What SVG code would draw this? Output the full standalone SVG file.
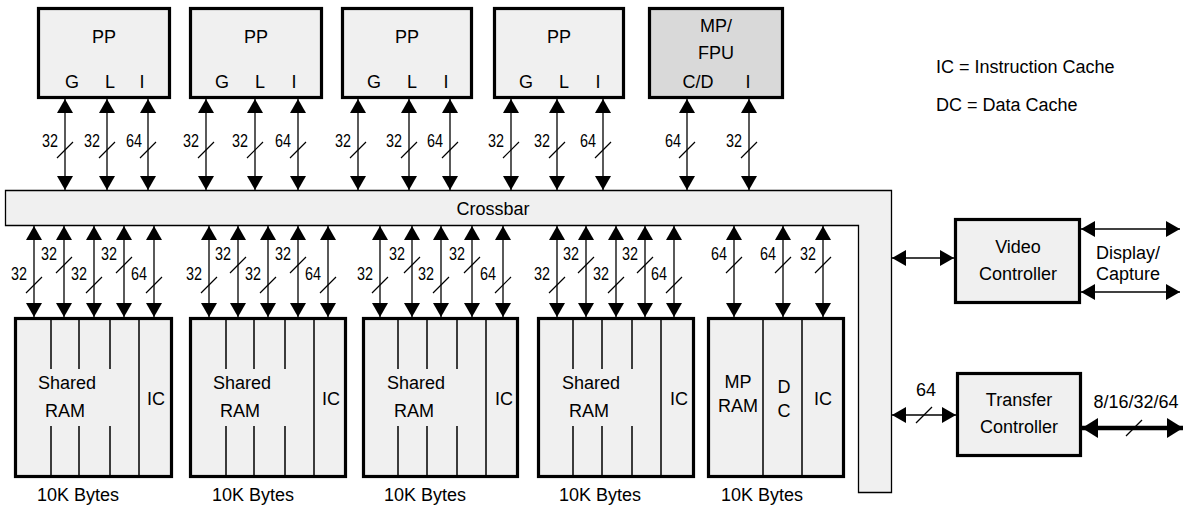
<svg xmlns="http://www.w3.org/2000/svg" width="1194" height="507" viewBox="0 0 1194 507">
<defs>
<style>
.box{fill:#f0f0f0;stroke:#000;stroke-width:3.2}
.mp{fill:#d9d9d9}
.xb{fill:#f0f0f0;stroke:#000;stroke-width:1.3}
.t{font-family:"Liberation Sans",Arial,Helvetica,sans-serif;font-size:18px;fill:#000}
.c{text-anchor:middle}
.n{font-family:"Liberation Sans",Arial,Helvetica,sans-serif;font-size:19px;fill:#000;text-anchor:end}
.bus{stroke:#000;stroke-width:1.3;fill:none;marker-start:url(#ah);marker-end:url(#ah)}
.thick{stroke:#000;stroke-width:4.5;fill:none;marker-start:url(#ahb);marker-end:url(#ahb)}
.sl{stroke:#000;stroke-width:1.2;fill:none}
.div{stroke:#000;stroke-width:1.5;fill:none}
</style>
<marker id="ah" viewBox="0 0 14 16" markerWidth="14" markerHeight="16" refX="14" refY="8" orient="auto-start-reverse" markerUnits="userSpaceOnUse">
<path d="M0,0 L14,8 L0,16 z" fill="#000"/>
</marker>
<marker id="ahb" viewBox="0 0 16 20" markerWidth="16" markerHeight="20" refX="16" refY="10" orient="auto-start-reverse" markerUnits="userSpaceOnUse">
<path d="M0,0 L16,10 L0,20 z" fill="#000"/>
</marker>
</defs>
<rect width="1194" height="507" fill="#fff"/>

<g id="crossbar">
<path class="xb" d="M5.5,190.5 H891.5 V492.5 H858.5 V225.5 H5.5 Z"/>
<text class="t c" x="493" y="215">Crossbar</text>
</g>

<g id="pp1">
<rect class="box" x="38.5" y="8.5" width="131" height="89"/>
<text class="t c" x="104" y="43">PP</text>
<text class="t c" x="72" y="88">G</text><text class="t c" x="110" y="88">L</text><text class="t c" x="142" y="88">I</text>
</g>
<g id="pp2">
<rect class="box" x="190.5" y="8.5" width="131" height="89"/>
<text class="t c" x="256" y="43">PP</text>
<text class="t c" x="222" y="88">G</text><text class="t c" x="260" y="88">L</text><text class="t c" x="294" y="88">I</text>
</g>
<g id="pp3">
<rect class="box" x="342.5" y="8.5" width="129" height="89"/>
<text class="t c" x="407" y="43">PP</text>
<text class="t c" x="374" y="88">G</text><text class="t c" x="412" y="88">L</text><text class="t c" x="446" y="88">I</text>
</g>
<g id="pp4">
<rect class="box" x="494.5" y="8.5" width="129" height="89"/>
<text class="t c" x="559" y="43">PP</text>
<text class="t c" x="526" y="88">G</text><text class="t c" x="564" y="88">L</text><text class="t c" x="598" y="88">I</text>
</g>
<g id="mpfpu">
<rect class="box mp" x="649.5" y="8.5" width="133" height="89"/>
<text class="t c" x="716" y="32">MP/</text>
<text class="t c" x="716" y="59">FPU</text>
<text class="t c" x="698" y="88">C/D</text><text class="t c" x="748" y="88">I</text>
</g>

<g id="legend">
<text class="t" x="936" y="73">IC = Instruction Cache</text>
<text class="t" x="936" y="111">DC = Data Cache</text>
</g>

<g id="ram1">
<rect class="box" x="15.5" y="318.5" width="156" height="158"/>
<path class="div" d="M51,318 V369 M51,426 V477 M79,318 V369 M79,426 V477 M110,318 V369 M110,426 V477 M139,318 V477"/>
<text class="t c" x="67" y="389">Shared</text><text class="t c" x="65" y="417">RAM</text>
<text class="t c" x="156" y="405">IC</text>
<text class="t c" x="78" y="501">10K Bytes</text>
</g>
<g id="ram2">
<rect class="box" x="190.5" y="318.5" width="155" height="158"/>
<path class="div" d="M226,318 V369 M226,426 V477 M254,318 V369 M254,426 V477 M285,318 V369 M285,426 V477 M314,318 V477"/>
<text class="t c" x="242" y="389">Shared</text><text class="t c" x="240" y="417">RAM</text>
<text class="t c" x="331" y="405">IC</text>
<text class="t c" x="253" y="501">10K Bytes</text>
</g>
<g id="ram3">
<rect class="box" x="363.5" y="318.5" width="154" height="158"/>
<path class="div" d="M398,318 V369 M398,426 V477 M427,318 V369 M427,426 V477 M457,318 V369 M457,426 V477 M486,318 V477"/>
<text class="t c" x="416" y="389">Shared</text><text class="t c" x="414" y="417">RAM</text>
<text class="t c" x="504" y="405">IC</text>
<text class="t c" x="425" y="501">10K Bytes</text>
</g>
<g id="ram4">
<rect class="box" x="538.5" y="318.5" width="155" height="158"/>
<path class="div" d="M573,318 V369 M573,426 V477 M602,318 V369 M602,426 V477 M632,318 V369 M632,426 V477 M661,318 V477"/>
<text class="t c" x="591" y="389">Shared</text><text class="t c" x="589" y="417">RAM</text>
<text class="t c" x="679" y="405">IC</text>
<text class="t c" x="600" y="501">10K Bytes</text>
</g>
<g id="ram5">
<rect class="box" x="708.5" y="318.5" width="135" height="158"/>
<path class="div" d="M763,318 V477 M802,318 V477"/>
<text class="t c" x="738" y="388">MP</text><text class="t c" x="738" y="412">RAM</text>
<text class="t c" x="784" y="393">D</text><text class="t c" x="784" y="417">C</text>
<text class="t c" x="823" y="405">IC</text>
<text class="t c" x="762" y="501">10K Bytes</text>
</g>

<g id="video">
<rect class="box" x="955.5" y="219.5" width="124" height="83"/>
<text class="t c" x="1018" y="253">Video</text>
<text class="t c" x="1018" y="280">Controller</text>
</g>
<g id="transfer">
<rect class="box" x="957.5" y="373.5" width="123" height="82"/>
<text class="t c" x="1019" y="406">Transfer</text>
<text class="t c" x="1019" y="433">Controller</text>
</g>

<g id="connectors">
<path class="bus" d="M65,99 V190"/><path class="bus" d="M107,99 V190"/><path class="bus" d="M148,99 V190"/>
<path class="bus" d="M206,99 V190"/><path class="bus" d="M255,99 V190"/><path class="bus" d="M298,99 V190"/>
<path class="bus" d="M358,99 V190"/><path class="bus" d="M409,99 V190"/><path class="bus" d="M450,99 V190"/>
<path class="bus" d="M511,99 V190"/><path class="bus" d="M557,99 V190"/><path class="bus" d="M603,99 V190"/>
<path class="bus" d="M687,99 V190"/><path class="bus" d="M749,99 V190"/>
<path class="sl" d="M57,158 L73,142 M99,158 L115,142 M140,158 L156,142 M198,158 L214,142 M247,158 L263,142 M290,158 L306,142 M350,158 L366,142 M401,158 L417,142 M442,158 L458,142 M503,158 L519,142 M549,158 L565,142 M595,158 L611,142 M679,158 L695,142 M741,158 L757,142"/>
<text class="n" x="58" y="147" textLength="16" lengthAdjust="spacingAndGlyphs">32</text>
<text class="n" x="100" y="147" textLength="16" lengthAdjust="spacingAndGlyphs">32</text>
<text class="n" x="142" y="147" textLength="16" lengthAdjust="spacingAndGlyphs">64</text>
<text class="n" x="199" y="147" textLength="16" lengthAdjust="spacingAndGlyphs">32</text>
<text class="n" x="248" y="147" textLength="16" lengthAdjust="spacingAndGlyphs">32</text>
<text class="n" x="291" y="147" textLength="16" lengthAdjust="spacingAndGlyphs">64</text>
<text class="n" x="351" y="147" textLength="16" lengthAdjust="spacingAndGlyphs">32</text>
<text class="n" x="402" y="147" textLength="16" lengthAdjust="spacingAndGlyphs">32</text>
<text class="n" x="443" y="147" textLength="16" lengthAdjust="spacingAndGlyphs">64</text>
<text class="n" x="504" y="147" textLength="16" lengthAdjust="spacingAndGlyphs">32</text>
<text class="n" x="550" y="147" textLength="16" lengthAdjust="spacingAndGlyphs">32</text>
<text class="n" x="596" y="147" textLength="16" lengthAdjust="spacingAndGlyphs">64</text>
<text class="n" x="681" y="147" textLength="16" lengthAdjust="spacingAndGlyphs">64</text>
<text class="n" x="742" y="147" textLength="16" lengthAdjust="spacingAndGlyphs">32</text>

<path class="bus" d="M34,226 V317"/><path class="bus" d="M64,226 V317"/><path class="bus" d="M94,226 V317"/><path class="bus" d="M124,226 V317"/><path class="bus" d="M154,226 V317"/>
<path class="bus" d="M209,226 V317"/><path class="bus" d="M238,226 V317"/><path class="bus" d="M268,226 V317"/><path class="bus" d="M298,226 V317"/><path class="bus" d="M328,226 V317"/>
<path class="bus" d="M380,226 V317"/><path class="bus" d="M412,226 V317"/><path class="bus" d="M441,226 V317"/><path class="bus" d="M472,226 V317"/><path class="bus" d="M503,226 V317"/>
<path class="bus" d="M557,226 V317"/><path class="bus" d="M586,226 V317"/><path class="bus" d="M616,226 V317"/><path class="bus" d="M645,226 V317"/><path class="bus" d="M674,226 V317"/>
<path class="bus" d="M734,226 V317"/><path class="bus" d="M783,226 V317"/><path class="bus" d="M823,226 V317"/>
<path class="sl" d="M26,293 L42,277 M56,273 L72,257 M86,293 L102,277 M116,273 L132,257 M146,293 L162,277
M201,293 L217,277 M230,273 L246,257 M260,293 L276,277 M290,273 L306,257 M320,293 L336,277
M372,293 L388,277 M404,273 L420,257 M433,293 L449,277 M464,273 L480,257 M495,293 L511,277
M549,293 L565,277 M578,273 L594,257 M608,293 L624,277 M637,273 L653,257 M666,293 L682,277
M726,273 L742,257 M775,273 L791,257 M815,273 L831,257"/>
<text class="n" x="27" y="280" textLength="16" lengthAdjust="spacingAndGlyphs">32</text>
<text class="n" x="57" y="260" textLength="16" lengthAdjust="spacingAndGlyphs">32</text>
<text class="n" x="87" y="280" textLength="16" lengthAdjust="spacingAndGlyphs">32</text>
<text class="n" x="117" y="260" textLength="16" lengthAdjust="spacingAndGlyphs">32</text>
<text class="n" x="147" y="280" textLength="16" lengthAdjust="spacingAndGlyphs">64</text>
<text class="n" x="202" y="280" textLength="16" lengthAdjust="spacingAndGlyphs">32</text>
<text class="n" x="231" y="260" textLength="16" lengthAdjust="spacingAndGlyphs">32</text>
<text class="n" x="261" y="280" textLength="16" lengthAdjust="spacingAndGlyphs">32</text>
<text class="n" x="291" y="260" textLength="16" lengthAdjust="spacingAndGlyphs">32</text>
<text class="n" x="321" y="280" textLength="16" lengthAdjust="spacingAndGlyphs">64</text>
<text class="n" x="373" y="280" textLength="16" lengthAdjust="spacingAndGlyphs">32</text>
<text class="n" x="405" y="260" textLength="16" lengthAdjust="spacingAndGlyphs">32</text>
<text class="n" x="434" y="280" textLength="16" lengthAdjust="spacingAndGlyphs">32</text>
<text class="n" x="465" y="260" textLength="16" lengthAdjust="spacingAndGlyphs">32</text>
<text class="n" x="496" y="280" textLength="16" lengthAdjust="spacingAndGlyphs">64</text>
<text class="n" x="550" y="280" textLength="16" lengthAdjust="spacingAndGlyphs">32</text>
<text class="n" x="579" y="260" textLength="16" lengthAdjust="spacingAndGlyphs">32</text>
<text class="n" x="609" y="280" textLength="16" lengthAdjust="spacingAndGlyphs">32</text>
<text class="n" x="638" y="260" textLength="16" lengthAdjust="spacingAndGlyphs">32</text>
<text class="n" x="667" y="280" textLength="16" lengthAdjust="spacingAndGlyphs">64</text>
<text class="n" x="727" y="260" textLength="16" lengthAdjust="spacingAndGlyphs">64</text>
<text class="n" x="776" y="260" textLength="16" lengthAdjust="spacingAndGlyphs">64</text>
<text class="n" x="816" y="260" textLength="16" lengthAdjust="spacingAndGlyphs">32</text>

<path class="bus" d="M892,258 H954"/>
<path class="bus" d="M1081,229 H1180"/>
<path class="bus" d="M1081,292 H1180"/>
<text class="t c" x="1128" y="259">Display/</text>
<text class="t c" x="1128" y="280">Capture</text>
<path class="bus" d="M892,415 H956"/>
<path class="sl" d="M916,423 L932,407"/>
<text class="t c" x="926" y="396">64</text>
<path class="thick" d="M1082,428 H1183"/>
<path class="sl" d="M1126,436 L1142,420"/>
<text class="t c" x="1136" y="408">8/16/32/64</text>
</g>
</svg>
